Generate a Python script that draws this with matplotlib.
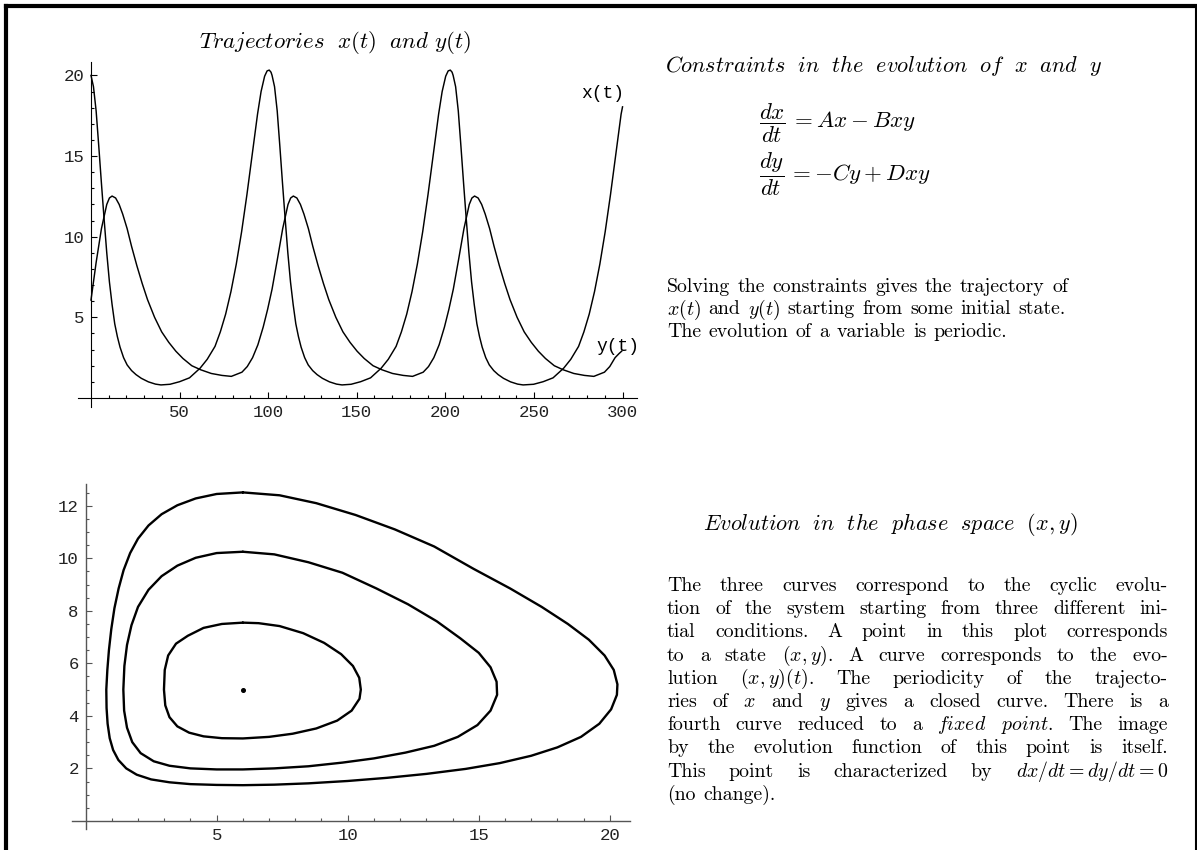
import matplotlib
matplotlib.use("Agg")
import matplotlib.pyplot as plt
from matplotlib.ticker import FixedLocator
from matplotlib.lines import Line2D

plt.rcParams['mathtext.fontset'] = 'cm'

# ---------------- data ----------------
t_x = [0, 1.4, 2.9, 4.4, 5.9, 7.4, 8.9, 10.4, 11.9, 13.4, 14.9, 16.4, 18.4, 20.4, 22.9, 25.4, 28.4, 32.4, 36.4, 39.5,
       44.6, 50.0, 55.6, 61.6, 65.6, 70.0, 73.0, 76.0, 79.0, 82.0, 85.0, 88.0, 91.0, 94.0, 96.0, 98.0, 99.4, 100.6,
       101.6, 102.2, 103.6, 105.1, 106.6, 108.1, 109.6, 111.1, 112.6, 114.1, 115.6, 117.1, 118.6, 120.6, 122.6,
       125.1, 127.6, 130.6, 134.6, 138.6, 141.7,
       146.8, 152.2, 157.8, 163.8, 167.8, 172.2, 175.2, 178.2, 181.2, 184.2, 187.2, 190.2, 193.2, 196.2, 198.2,
       200.2, 201.6, 202.8,
       203.8, 204.4, 205.8, 207.3, 208.8, 210.3, 211.8, 213.3, 214.8, 216.3, 217.8, 219.3, 220.8, 222.8, 224.8,
       227.3, 229.8, 232.8, 236.8, 240.8, 243.9,
       249.8, 255.2, 260.8, 266.8, 270.8, 275.2, 278.2, 281.2, 284.2, 287.2, 290.2, 293.2, 296.2, 299.2, 300.0]
x_vals = [20.0, 19.3, 17.8, 15.6, 13.3, 11.1, 9.0, 7.2, 5.8, 4.6, 3.8, 3.15, 2.5, 2.05, 1.7, 1.45, 1.22, 1.0, 0.86, 0.81,
          0.85, 1.01, 1.25, 1.85, 2.4, 3.2, 4.1, 5.2, 6.6, 8.3, 10.3, 12.6, 15.1, 17.6, 19.0, 19.95, 20.28, 20.33,
          20.2, 20.0, 19.3, 17.8, 15.6, 13.3, 11.1, 9.0, 7.2, 5.8, 4.6, 3.8, 3.15, 2.5, 2.05,
          1.7, 1.45, 1.22, 1.0, 0.86, 0.81,
          0.85, 1.01, 1.25, 1.85, 2.4, 3.2, 4.1, 5.2, 6.6, 8.3, 10.3, 12.6, 15.1, 17.6, 19.0,
          19.95, 20.28, 20.33,
          20.2, 20.0, 19.3, 17.8, 15.6, 13.3, 11.1, 9.0, 7.2, 5.8, 4.6, 3.8, 3.15, 2.5, 2.05,
          1.7, 1.45, 1.22, 1.0, 0.86, 0.81,
          0.85, 1.01, 1.25, 1.85, 2.4, 3.2, 4.1, 5.2, 6.6, 8.3, 10.3, 12.6, 15.1, 17.6, 18.05]

t_y = [0, 2.9, 5.9, 8.9, 10.4, 11.9, 13.9, 15.9, 17.9, 20.4, 22.9, 25.9, 28.9, 31.9, 35.9, 39.9, 43.9, 47.9, 51.9,
       56.9, 61.9, 67.9, 73.9, 79.2,
       85.2, 88.2, 91.2, 94.2, 97.2, 99.7, 102.2, 105.2, 108.2, 111.2, 112.7, 114.2,
       116.2, 118.2, 120.2, 122.7, 125.2, 128.2, 131.2, 134.2, 138.2, 142.2, 146.2, 150.2, 154.2, 159.2, 164.2,
       170.2, 176.2, 181.5,
       187.5, 190.5, 193.5, 196.5, 199.5, 202.0, 204.5, 207.5, 210.5, 213.5, 215.0, 216.5,
       218.5, 220.5, 222.5, 225.0, 227.5, 230.5, 233.5, 236.5, 240.5, 244.5, 248.5, 252.5, 256.5, 261.5, 266.5,
       272.5, 278.5, 283.8,
       289.8, 292.8, 295.8, 298.0, 299.5]
y_vals = [6.07, 8.4, 10.5, 12.0, 12.4, 12.52, 12.4, 12.0, 11.4, 10.5, 9.4, 8.2, 7.1, 6.1, 5.0, 4.1, 3.45, 2.9, 2.45,
          2.0, 1.75, 1.52, 1.4, 1.34,
          1.6, 1.95, 2.5, 3.3, 4.4, 5.5, 6.75, 8.6, 10.5, 12.0, 12.4, 12.52,
          12.4, 12.0, 11.4, 10.5, 9.4, 8.2, 7.1, 6.1, 5.0, 4.1, 3.45, 2.9, 2.45, 2.0, 1.75,
          1.52, 1.4, 1.34,
          1.6, 1.95, 2.5, 3.3, 4.4, 5.5, 6.75, 8.6, 10.5, 12.0, 12.4, 12.52,
          12.4, 12.0, 11.4, 10.5, 9.4, 8.2, 7.1, 6.1, 5.0, 4.1, 3.45, 2.9, 2.45, 2.0, 1.75,
          1.52, 1.4, 1.34,
          1.6, 1.95, 2.5, 2.75, 2.9]

outer_x = [6.0, 5.0, 4.2, 3.5, 2.9, 2.4, 2.0, 1.7, 1.45, 1.26, 1.1, 0.98, 0.89, 0.83, 0.79, 0.8, 0.84, 0.92, 1.05,
           1.25, 1.55, 1.95, 2.5, 3.2, 4.0, 5.0, 6.0, 7.2, 8.5, 10.0, 11.5, 13.0, 14.5, 15.8, 17.0, 18.0, 18.9,
           19.6, 20.05, 20.27, 20.29, 20.15, 19.8, 19.2, 18.4, 17.4, 16.2, 14.8, 13.3, 11.8, 10.3, 8.8, 7.4, 6.0]
outer_y = [12.51, 12.45, 12.28, 12.02, 11.68, 11.25, 10.75, 10.2, 9.55, 8.85, 8.1, 7.3, 6.5, 5.75, 5.0, 4.3, 3.7,
           3.15, 2.7, 2.32, 2.0, 1.76, 1.58, 1.47, 1.4, 1.37, 1.36, 1.38, 1.43, 1.52, 1.64, 1.79, 1.98, 2.2, 2.48,
           2.8, 3.2, 3.7, 4.25, 4.8, 5.2, 5.75, 6.3, 6.9, 7.5, 8.15, 8.85, 9.6, 10.45, 11.1, 11.65, 12.1, 12.4, 12.51]

middle_x = [6.0, 5.0, 4.2, 3.5, 2.9, 2.4, 2.0, 1.75, 1.58, 1.48, 1.44, 1.47, 1.58, 1.78, 2.1, 2.6, 3.2, 4.0, 5.0,
            6.0, 7.2, 8.5, 9.8, 11.0, 12.2, 13.3, 14.2, 14.95, 15.45, 15.7, 15.68, 15.45, 15.0, 14.3, 13.4, 12.3,
            11.1, 9.8, 8.5, 7.2, 6.0]
middle_y = [10.25, 10.2, 10.02, 9.72, 9.32, 8.8, 8.15, 7.45, 6.7, 5.9, 5.0, 4.2, 3.55, 3.0, 2.58, 2.27, 2.1, 2.0,
            1.96, 1.96, 2.0, 2.08, 2.22, 2.38, 2.6, 2.86, 3.2, 3.65, 4.2, 4.8, 5.3, 5.85, 6.4, 6.95, 7.6, 8.25,
            8.85, 9.45, 9.85, 10.15, 10.25]

inner_x = [6.0, 5.2, 4.5, 3.9, 3.45, 3.15, 3.02, 2.99, 3.04, 3.2, 3.5, 3.95, 4.5, 5.2, 6.0, 7.0, 7.9, 8.8, 9.6,
           10.15, 10.45, 10.5, 10.44, 10.2, 9.75, 9.1, 8.3, 7.4, 6.6, 6.0]
inner_y = [7.55, 7.5, 7.35, 7.05, 6.75, 6.3, 5.75, 5.0, 4.4, 3.95, 3.6, 3.36, 3.22, 3.15, 3.14, 3.2, 3.32, 3.52,
           3.82, 4.2, 4.65, 5.0, 5.45, 5.9, 6.35, 6.78, 7.15, 7.42, 7.53, 7.55]

fixed_point = (6.0, 5.0)

top_xticks = [50, 100, 150, 200, 250, 300]
top_yticks = [5, 10, 15, 20]
ph_xticks = [5, 10, 15, 20]
ph_yticks = [2, 4, 6, 8, 10, 12]

# ---------------- figure ----------------
W, H = 1197, 850
fig = plt.figure(figsize=(W / 100, H / 100), dpi=100)


def rect(left, top, right, bottom):
    return [left / W, 1 - bottom / H, (right - left) / W, (bottom - top) / H]


def fx(x):
    return x / W


def fy(y):
    return 1 - y / H


TICKFONT = dict(family='Liberation Mono', size=12.5)


def style_axes(ax, color, lw):
    for s in ['top', 'right']:
        ax.spines[s].set_visible(False)
    for s in ['left', 'bottom']:
        ax.spines[s].set_position(('data', 0))
        ax.spines[s].set_color(color)
        ax.spines[s].set_linewidth(lw)
    ax.tick_params(which='both', direction='in', color=color, width=0.8)
    ax.tick_params(which='major', length=4.5, pad=5, labelsize=TICKFONT['size'], labelcolor='#222222')
    ax.tick_params(which='minor', length=2.5)
    for lab in ax.get_xticklabels() + ax.get_yticklabels():
        lab.set_family(TICKFONT['family'])
    ax.patch.set_visible(False)


# --- top: trajectories ---
ax1 = fig.add_axes(rect(77.7, 61.7, 636.7, 406.7))
ax1.plot(t_x, x_vals, color='black', lw=1.05, solid_joinstyle='round')
ax1.plot(t_y, y_vals, color='black', lw=1.05, solid_joinstyle='round')
ax1.set_xlim(-7.5, 308.0)
ax1.set_ylim(-0.54, 20.85)
ax1.xaxis.set_major_locator(FixedLocator(top_xticks))
ax1.xaxis.set_minor_locator(FixedLocator([v for v in range(10, 301, 10) if v % 50]))
ax1.yaxis.set_major_locator(FixedLocator(top_yticks))
ax1.yaxis.set_minor_locator(FixedLocator([v for v in range(1, 21) if v % 5]))
style_axes(ax1, 'black', 0.8)
ax1.text(301, 18.9, 'x(t)', ha='right', va='center', fontfamily='Liberation Mono', fontsize=13)
ax1.text(309.5, 3.2, 'y(t)', ha='right', va='center', fontfamily='Liberation Mono', fontsize=13, clip_on=False)
fig.text(fx(335), fy(42), r'$\mathit{Trajectories}\ \ x(t)\ \ \mathit{and}\ y(t)$', ha='center', va='center',
         fontsize=16.5)

# --- bottom: phase space ---
ax2 = fig.add_axes(rect(71.7, 484, 630, 829.3))
for cx, cy in [(outer_x, outer_y), (middle_x, middle_y), (inner_x, inner_y)]:
    ax2.plot(cx, cy, color='black', lw=1.7, solid_joinstyle='round', solid_capstyle='round')
ax2.plot([fixed_point[0]], [fixed_point[1]], 'o', color='black', ms=2.6)
ax2.set_xlim(-0.53, 20.77)
ax2.set_ylim(-0.32, 12.83)
ax2.xaxis.set_major_locator(FixedLocator(ph_xticks))
ax2.xaxis.set_minor_locator(FixedLocator([v for v in range(1, 21) if v % 5]))
ax2.yaxis.set_major_locator(FixedLocator(ph_yticks))
ax2.yaxis.set_minor_locator(FixedLocator([v / 2 for v in range(1, 26) if v % 4]))
style_axes(ax2, '#555555', 1.0)

# --- right hand texts ---
fig.text(fx(884), fy(66), r'$\mathit{Constraints\ \ in\ \ the\ \ evolution\ \ of}\ \ x\ \ \mathit{and}\ \ y$',
         ha='center', va='center', fontsize=16)
fig.text(fx(759), fy(123), r'$\dfrac{dx}{dt}\,= Ax - Bxy$', ha='left', va='center', fontsize=16.5)
fig.text(fx(759), fy(174), r'$\dfrac{dy}{dt}\,= {-}Cy + Dxy$', ha='left', va='center', fontsize=16.5)
fig.text(fx(890), fy(524), r'$\mathit{Evolution\ \ in\ \ the\ \ phase\ \ space}\ \ (x,y)$',
         ha='center', va='center', fontsize=16)

renderer = fig.canvas.get_renderer()
BODY = dict(family='cmr10', size=14.3)


def draw_line(words, x0, y, x1=None, space=7.5):
    texts = [fig.text(0, 0, w, ha='left', va='baseline', fontfamily=BODY['family'], fontsize=BODY['size'])
             for w in words]
    widths = [t.get_window_extent(renderer).width for t in texts]
    if x1 is not None and len(words) > 1:
        gap = (x1 - x0 - sum(widths)) / (len(words) - 1)
    else:
        gap = space
    x = x0
    for t, w in zip(texts, widths):
        t.set_position((fx(x), fy(y)))
        x += w + gap


top_par = [
    "Solving the constraints gives the trajectory of",
    r"$x(t)$ and $y(t)$ starting from some initial state.",
    "The evolution of a variable is periodic.",
]
for i, line in enumerate(top_par):
    draw_line(line.split(' '), 667, 292 + i * 22.5)

bot_par = [
    "The three curves correspond to the cyclic evolu-",
    "tion of the system starting from three different ini-",
    "tial conditions. A point in this plot corresponds",
    r"to a state $(x,y)$. A curve corresponds to the evo-",
    r"lution $(x,y)(t)$. The periodicity of the trajecto-",
    r"ries of $x$ and $y$ gives a closed curve. There is a",
    r"fourth curve reduced to a $\mathit{fixed}$ $\mathit{point}$. The image",
    "by the evolution function of this point is itself.",
    r"This point is characterized by $dx/dt=dy/dt=0$",
    "(no change).",
]
for i, line in enumerate(bot_par):
    last = (i == len(bot_par) - 1)
    draw_line(line.split(' '), 667, 591 + i * 23.2, None if last else 1168)

# --- frame ---
for xs, ys, lw in [([5.5, 5.5], [5.5, 850], 3), ([5.5, 1197], [5.5, 5.5], 3), ([1195.5, 1195.5], [5.5, 850], 1.5)]:
    fig.add_artist(Line2D([fx(v) for v in xs], [fy(v) for v in ys], color='black', lw=lw,
                          transform=fig.transFigure))

fig.savefig('out.png', dpi=100)
